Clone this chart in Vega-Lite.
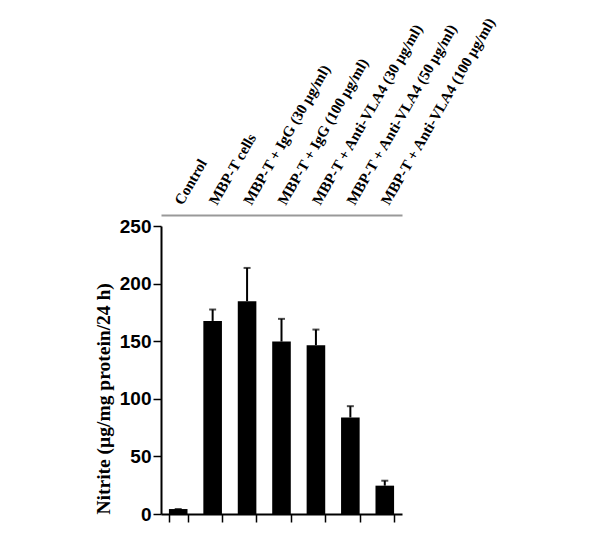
{
  "$schema": "https://vega.github.io/schema/vega-lite/v6.json",
  "autosize": {"type": "none"},
  "padding": {"left": 161, "top": 226, "right": 198, "bottom": 19},
  "width": 241,
  "height": 288,
  "background": "white",
  "config": {"view": {"stroke": null}},
  "data": {"values": [
    {"group": "Control", "value": 4.3, "upper": 4.3},
    {"group": "MBP-T cells", "value": 167.6, "upper": 177.5},
    {"group": "MBP-T + IgG (30 µg/ml)", "value": 184.7, "upper": 213.6},
    {"group": "MBP-T + IgG (100 µg/ml)", "value": 149.7, "upper": 169.4},
    {"group": "MBP-T + Anti-VLA4 (30 µg/ml)", "value": 146.5, "upper": 160.1},
    {"group": "MBP-T + Anti-VLA4 (50 µg/ml)", "value": 83.8, "upper": 93.6},
    {"group": "MBP-T + Anti-VLA4 (100 µg/ml)", "value": 24.6, "upper": 28.9}
  ]},
  "resolve": {"axis": {"x": "independent"}},
  "layer": [
    {
      "mark": {"type": "bar", "color": "black"},
      "encoding": {
        "x": {"field": "group", "type": "nominal", "sort": null,
          "scale": {"paddingInner": 0.46, "paddingOuter": 0.23},
          "axis": {"orient": "bottom", "title": null, "labels": false, "ticks": true, "tickBand": "extent",
            "tickSize": 8, "tickWidth": 1.5, "tickColor": "black", "domainColor": "black", "domainWidth": 2, "grid": false}},
        "y": {"field": "value", "type": "quantitative",
          "scale": {"domain": [0, 250], "nice": false},
          "axis": {"title": "Nitrite (µg/mg protein/24 h)", "values": [0, 50, 100, 150, 200, 250],
            "grid": false, "domainColor": "black", "domainWidth": 2, "tickColor": "black", "tickWidth": 1.5, "tickSize": 8,
            "labelFont": "Liberation Sans", "labelFontWeight": "bold", "labelFontSize": 19, "labelColor": "black", "labelPadding": 2,
            "titleFont": "Liberation Serif", "titleFontWeight": "bold", "titleFontSize": 19.5, "titleColor": "black",
            "titlePadding": 6, "titleAnchor": "start"}}
      }
    },
    {
      "mark": {"type": "rule", "color": "black", "strokeWidth": 2},
      "encoding": {
        "x": {"field": "group", "type": "nominal", "sort": null,
          "axis": {"orient": "top", "title": null, "offset": 11, "ticks": false, "grid": false,
            "domainColor": "#999999", "domainWidth": 2,
            "labelAngle": -60, "labelAlign": "left", "labelBaseline": "middle", "labelPadding": 12,
            "labelFont": "Liberation Serif", "labelFontWeight": "bold", "labelFontSize": 15, "labelColor": "black", "labelLimit": 400}},
        "y": {"field": "value", "type": "quantitative"},
        "y2": {"field": "upper"}
      }
    },
    {
      "mark": {"type": "tick", "color": "black", "thickness": 2, "size": 7},
      "encoding": {
        "x": {"field": "group", "type": "nominal", "sort": null, "axis": null},
        "y": {"field": "upper", "type": "quantitative"}
      }
    }
  ]
}
